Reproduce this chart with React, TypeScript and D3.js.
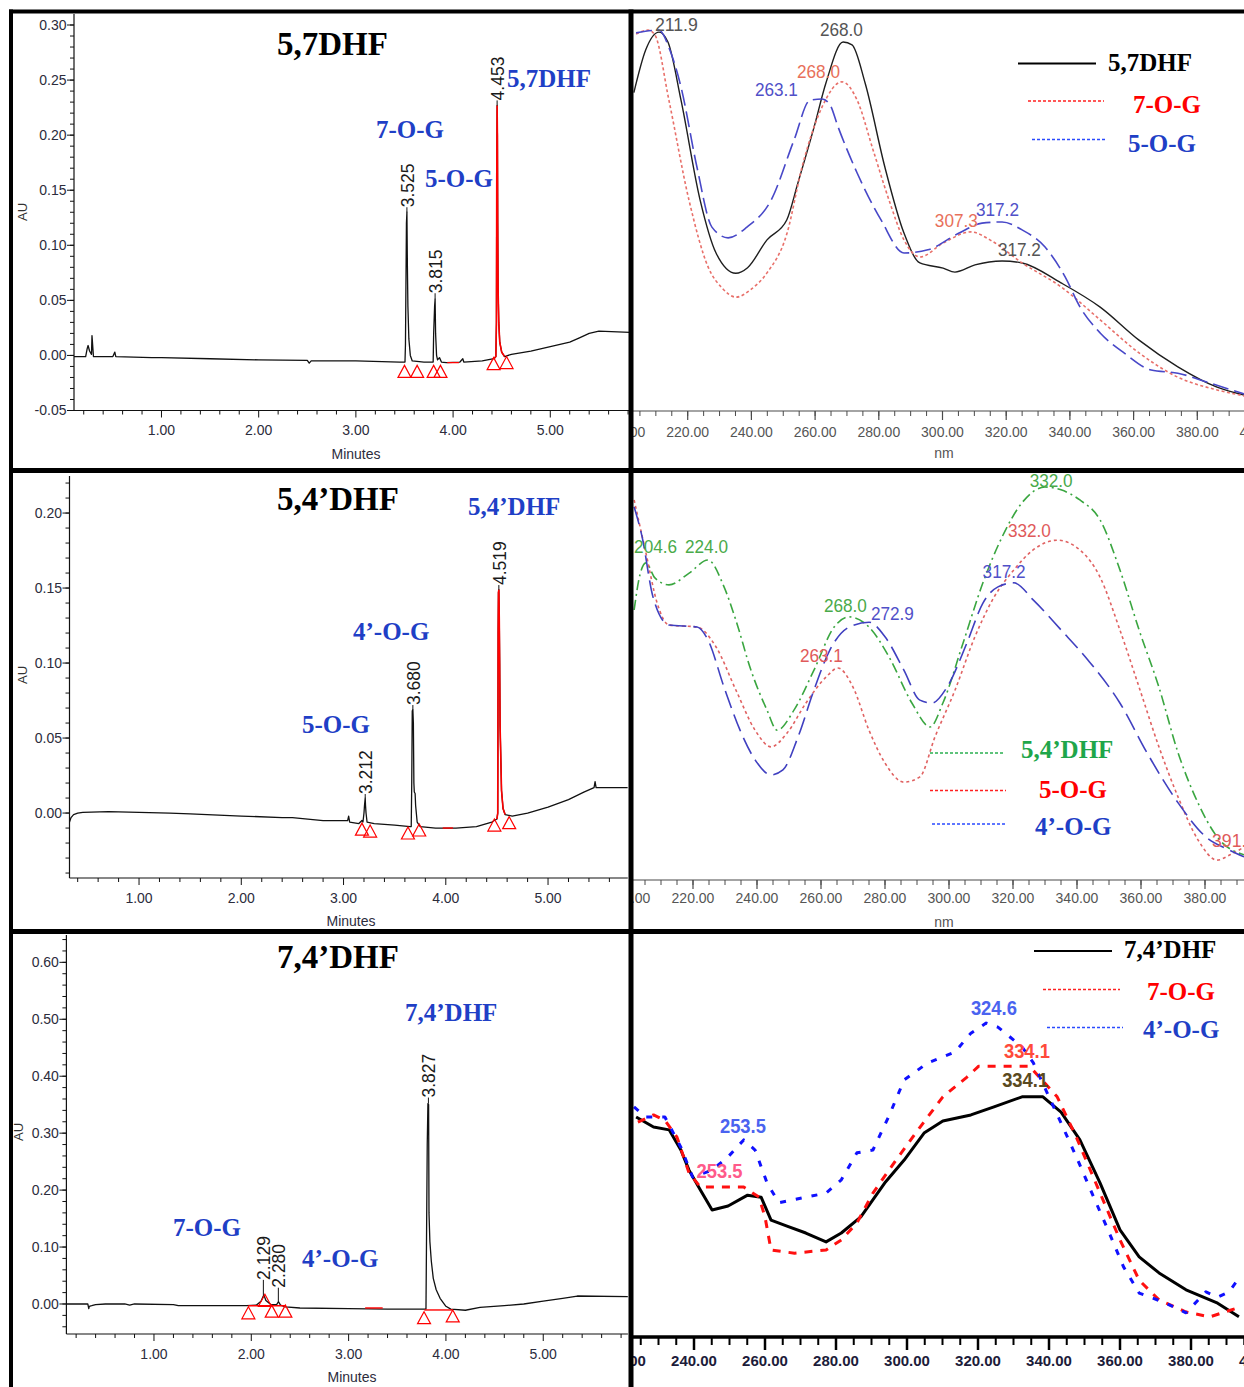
import React from 'react';
import * as d3 from 'd3';

type P = [number, number];

// ================= Chromatogram 1 : 5,7DHF =================
const chrom1Trace: P[] = [
  [0.10, -0.001], [0.22, -0.001], [0.235, 0.006], [0.245, 0.009], [0.26, 0.004], [0.28, 0.001],
  [0.285, 0.018], [0.29, 0.012], [0.30, -0.001], [0.50, -0.001], [0.52, 0.003], [0.53, -0.001],
  [0.90, -0.002], [1.00, -0.002], [1.50, -0.003], [2.00, -0.004], [2.50, -0.0045], [2.52, -0.007],
  [2.54, -0.005], [3.00, -0.005], [3.45, -0.006], [3.505, -0.006], [3.51, 0.01], [3.52, 0.12],
  [3.525, 0.130], [3.53, 0.08], [3.535, 0.045], [3.545, 0.015], [3.56, 0.0], [3.58, -0.005],
  [3.70, -0.006], [3.795, -0.006], [3.80, 0.02], [3.81, 0.045], [3.815, 0.051], [3.82, 0.02],
  [3.83, 0.0], [3.84, -0.004], [3.86, -0.002], [3.88, -0.006], [3.93, -0.0065], [4.07, -0.006],
  [4.10, -0.003], [4.11, -0.006], [4.30, -0.005], [4.42, -0.003], [4.44, -0.001], [4.446, 0.03],
  [4.449, 0.16], [4.453, 0.227], [4.456, 0.20], [4.459, 0.12], [4.463, 0.06], [4.47, 0.03],
  [4.48, 0.012], [4.50, 0.003], [4.53, -0.001], [4.60, 0.001], [4.80, 0.004], [5.00, 0.008],
  [5.20, 0.012], [5.30, 0.016], [5.40, 0.020], [5.50, 0.022], [5.82, 0.021],
];
const chrom1RedPeak: P = [4.42, 4.53];
const chrom1RedBaselines: [number, number, number][] = [[3.94, 4.06, -0.0065]];
const chrom1Triangles: P[] = [[3.50, -0.009], [3.63, -0.009], [3.80, -0.009], [3.87, -0.009], [4.417, -0.002], [4.55, -0.001]];
const chrom1PeakRT = [3.525, 3.815, 4.453];
const chrom1PeakTop = [0.130, 0.051, 0.227];
const chrom1PeakLabels = ['3.525', '3.815', '4.453'];
const chrom1YTicks = [-0.05, 0.0, 0.05, 0.10, 0.15, 0.20, 0.25, 0.30];
const chrom1XTicks = [1, 2, 3, 4, 5];
const chrom1Title = '5,7DHF';
const chrom1Compounds = ['5,7DHF', '7-O-G', '5-O-G'];

// ================= Chromatogram 2 : 5,4'DHF =================
const chrom2Trace: P[] = [
  [0.32, -0.006], [0.335, -0.003], [0.36, -0.001], [0.40, 0.0], [0.45, 0.0005], [0.70, 0.001],
  [1.00, 0.0005], [1.30, 0.0], [1.50, -0.0005], [2.00, -0.002], [2.40, -0.003], [2.50, -0.003],
  [2.80, -0.005], [3.00, -0.005], [3.04, -0.005], [3.05, -0.002], [3.06, -0.006], [3.15, -0.007],
  [3.18, -0.005], [3.19, -0.006], [3.20, 0.0], [3.205, 0.005], [3.212, 0.010], [3.215, 0.005],
  [3.22, 0.0], [3.23, -0.006], [3.30, -0.007], [3.50, -0.008], [3.65, -0.009], [3.662, -0.009],
  [3.667, 0.02], [3.672, 0.068], [3.678, 0.069], [3.683, 0.06], [3.688, 0.02], [3.692, 0.014],
  [3.70, 0.013], [3.705, 0.005], [3.72, -0.006], [3.75, -0.009], [3.90, -0.010], [4.00, -0.010],
  [4.10, -0.010], [4.30, -0.009], [4.45, -0.006], [4.50, -0.004], [4.508, 0.0], [4.512, 0.12],
  [4.515, 0.147], [4.519, 0.149], [4.523, 0.13], [4.527, 0.10], [4.531, 0.058], [4.537, 0.04],
  [4.545, 0.015], [4.56, 0.003], [4.58, -0.001], [4.65, -0.002], [4.80, 0.0], [5.00, 0.004],
  [5.20, 0.009], [5.35, 0.014], [5.45, 0.017], [5.46, 0.021], [5.47, 0.017], [5.78, 0.017],
];
const chrom2RedPeak: P = [4.47, 4.60];
const chrom2RedBaselines: [number, number, number][] = [[3.97, 4.07, -0.010]];
const chrom2Triangles: P[] = [[3.18, -0.0067], [3.26, -0.008], [3.63, -0.0093], [3.74, -0.0073], [4.475, -0.004], [4.62, -0.0024]];
const chrom2PeakRT = [3.212, 3.678, 4.519];
const chrom2PeakTop = [0.010, 0.069, 0.149];
const chrom2PeakLabels = ['3.212', '3.680', '4.519'];
const chrom2YTicks = [0.0, 0.05, 0.10, 0.15, 0.20];
const chrom2XTicks = [1, 2, 3, 4, 5];
const chrom2Title = '5,4’DHF';
const chrom2Compounds = ['5,4’DHF', '4’-O-G', '5-O-G'];

// ================= Chromatogram 3 : 7,4'DHF =================
const chrom3Trace: P[] = [
  [0.10, 0.0], [0.32, 0.0], [0.33, -0.008], [0.335, -0.004], [0.36, -0.003], [0.40, -0.001],
  [0.50, 0.0], [0.70, 0.0], [0.75, -0.002], [0.80, 0.0], [1.20, -0.001], [1.25, -0.003],
  [1.60, -0.003], [1.95, -0.003], [2.05, -0.002], [2.10, 0.005], [2.129, 0.016], [2.15, 0.006],
  [2.20, -0.001], [2.26, -0.001], [2.28, 0.004], [2.30, -0.002], [2.35, -0.005], [2.50, -0.007],
  [3.00, -0.008], [3.40, -0.009], [3.60, -0.009], [3.795, -0.009], [3.80, 0.10], [3.808, 0.28],
  [3.815, 0.352], [3.822, 0.35], [3.826, 0.16], [3.835, 0.11], [3.85, 0.075], [3.87, 0.045],
  [3.90, 0.025], [3.94, 0.01], [4.00, -0.004], [4.05, -0.009], [4.20, -0.011], [4.35, -0.006],
  [4.60, -0.003], [4.80, 0.0], [5.00, 0.005], [5.20, 0.010], [5.35, 0.014], [5.87, 0.013],
];
const chrom3RedPeak: P = [0, 0];
const chrom3RedBaselines: [number, number, number][] = [[1.97, 2.35, -0.003], [3.17, 3.35, -0.007], [3.778, 4.07, -0.0105]];
const chrom3Triangles: P[] = [[1.97, -0.005], [2.14, 0.017], [2.21, -0.002], [2.35, -0.002], [3.775, -0.0135], [4.07, -0.0105]];
const chrom3PeakRT = [2.124, 2.278, 3.82];
const chrom3PeakTop = [0.016, 0.004, 0.352];
const chrom3PeakLabels = ['2.129', '2.280', '3.827'];
const chrom3YTicks = [0.0, 0.10, 0.20, 0.30, 0.40, 0.50, 0.60];
const chrom3XTicks = [1, 2, 3, 4, 5];
const chrom3Title = '7,4’DHF';
const chrom3Compounds = ['7,4’DHF', '7-O-G', '4’-O-G'];

// ================= UV spectra (nm, relative absorbance) =================
const spec1Names = ['5,7DHF', '7-O-G', '5-O-G'];
const spec1DHF: P[] = [
  [203.1, 0.80], [206.8, 0.907], [211.0, 0.952], [213.8, 0.927], [217.9, 0.781], [223.9, 0.53],
  [228.9, 0.397], [235.1, 0.346], [238.8, 0.36], [244.9, 0.43], [251.1, 0.48], [254.6, 0.573],
  [259.7, 0.714], [263.4, 0.824], [268.8, 0.927], [271.6, 0.92], [275.7, 0.824], [281.9, 0.613],
  [287.9, 0.447], [292.9, 0.372], [300.2, 0.359], [303.9, 0.349], [310.2, 0.367], [318.7, 0.377],
  [325.0, 0.372], [337.2, 0.322], [349.5, 0.261], [361.7, 0.178], [373.9, 0.111], [386.2, 0.06],
  [394.7, 0.04],
];
const spec1_7OG: P[] = [
  [203.8, 0.947], [207.5, 0.957], [209.7, 0.945], [214.1, 0.781], [220.4, 0.53], [226.4, 0.362],
  [230.8, 0.309], [235.2, 0.286], [239.6, 0.304], [244.9, 0.347], [251.2, 0.447], [255.9, 0.613],
  [262.2, 0.764], [268.4, 0.827], [273.2, 0.781], [278.2, 0.656], [283.2, 0.53], [287.9, 0.43],
  [292.9, 0.387], [300.2, 0.422], [309.0, 0.45], [314.9, 0.43], [325.0, 0.372], [337.2, 0.312],
  [349.5, 0.229], [361.7, 0.146], [373.9, 0.085], [386.2, 0.053], [394.7, 0.038],
];
const spec1_5OG: P[] = [
  [203.8, 0.95], [211.0, 0.957], [214.4, 0.907], [217.9, 0.814], [222.9, 0.613], [227.6, 0.462],
  [232.7, 0.435], [238.6, 0.462], [246.2, 0.53], [253.4, 0.681], [258.4, 0.781], [262.2, 0.784],
  [264.7, 0.769], [267.2, 0.714], [273.2, 0.598], [280.7, 0.48], [287.9, 0.397], [295.4, 0.405],
  [305.2, 0.447], [312.4, 0.472], [318.7, 0.475], [325.0, 0.455], [332.2, 0.412], [338.5, 0.337],
  [343.2, 0.261], [349.5, 0.196], [357.0, 0.146], [365.5, 0.103], [373.9, 0.095], [384.0, 0.07],
  [394.7, 0.043],
];
const spec1PeakText = ['211.9', '268.0', '268.0', '263.1', '307.3', '317.2', '317.2'];
const spec1PeakNm = [209.7, 261.5, 254.3, 241.1, 297.6, 310.5, 317.4];
const spec1PeakAbs = [0.955, 0.942, 0.837, 0.791, 0.462, 0.49, 0.389];
const spec1PeakSeries = [0, 0, 1, 2, 1, 2, 0];

const spec2Names = ['5,4’DHF', '5-O-G', '4’-O-G'];
const spec2DHF: P[] = [
  [201.6, 0.665], [203.4, 0.751], [205.3, 0.781], [208.1, 0.744], [212.5, 0.727], [218.8, 0.756],
  [224.7, 0.788], [229.7, 0.722], [233.4, 0.64], [238.1, 0.517], [243.1, 0.419], [246.3, 0.369],
  [251.6, 0.419], [257.8, 0.517], [264.1, 0.623], [268.8, 0.648], [275.0, 0.623], [281.3, 0.549],
  [288.4, 0.436], [294.1, 0.377], [298.1, 0.436], [304.4, 0.584], [310.6, 0.732], [316.6, 0.845],
  [322.8, 0.929], [330.0, 0.968], [335.0, 0.961], [340.9, 0.936], [347.2, 0.887], [353.4, 0.764],
  [359.4, 0.616], [365.6, 0.475], [371.6, 0.313], [377.8, 0.19], [383.8, 0.106], [392.2, 0.062],
];
const spec2_5OG: P[] = [
  [201.6, 0.936], [205.3, 0.805], [208.8, 0.682], [212.5, 0.628], [221.3, 0.623], [227.2, 0.574],
  [233.4, 0.468], [239.4, 0.369], [244.4, 0.328], [249.4, 0.362], [255.3, 0.436], [261.6, 0.50],
  [265.3, 0.522], [270.0, 0.475], [275.0, 0.369], [280.0, 0.288], [285.9, 0.241], [290.9, 0.254],
  [295.6, 0.352], [301.9, 0.468], [308.1, 0.599], [314.1, 0.697], [320.3, 0.764], [326.3, 0.813],
  [333.8, 0.837], [340.9, 0.813], [347.2, 0.746], [353.4, 0.616], [359.4, 0.475], [365.6, 0.328],
  [371.6, 0.204], [377.8, 0.099], [383.8, 0.049], [387.8, 0.062], [392.2, 0.081],
];
const spec2_4OG: P[] = [
  [201.6, 0.919], [204.1, 0.845], [207.5, 0.697], [212.5, 0.628], [221.3, 0.623], [224.7, 0.591],
  [229.7, 0.475], [234.7, 0.369], [239.4, 0.296], [244.4, 0.259], [248.1, 0.271], [252.8, 0.352],
  [257.8, 0.468], [262.8, 0.567], [268.8, 0.623], [275.0, 0.635], [280.0, 0.599], [285.9, 0.517],
  [290.9, 0.443], [294.7, 0.436], [299.4, 0.475], [305.6, 0.584], [310.6, 0.682], [315.3, 0.722],
  [320.3, 0.732], [326.3, 0.69], [335.0, 0.616], [343.4, 0.542], [353.4, 0.436], [361.9, 0.313],
  [371.6, 0.19], [380.3, 0.106], [387.5, 0.074], [392.2, 0.057],
];
const spec2PeakText = ['204.6', '224.0', '268.0', '272.9', '263.1', '317.2', '332.0', '332.0', '391.'];
const spec2PeakNm = [201.6, 217.5, 260.9, 275.6, 253.4, 310.5, 318.4, 325.2, 382.2];
const spec2PeakAbs = [0.805, 0.805, 0.66, 0.64, 0.537, 0.744, 0.845, 0.968, 0.081];
const spec2PeakSeries = [0, 0, 0, 2, 1, 2, 1, 0, 1];

const spec3Names = ['7,4’DHF', '7-O-G', '4’-O-G'];
const spec3DHF: P[] = [
  [223.7, 0.546], [228.6, 0.521], [233.0, 0.514], [236.3, 0.464], [238.6, 0.414], [241.8, 0.365],
  [245.1, 0.315], [249.6, 0.325], [255.1, 0.352], [258.9, 0.347], [261.7, 0.29], [266.2, 0.275],
  [271.5, 0.258], [277.2, 0.236], [281.5, 0.258], [287.0, 0.298], [293.7, 0.382], [299.2, 0.439],
  [304.8, 0.506], [310.1, 0.536], [318.0, 0.551], [324.5, 0.571], [332.4, 0.596], [338.3, 0.596],
  [343.4, 0.558], [348.7, 0.489], [354.4, 0.382], [360.0, 0.266], [365.4, 0.199], [371.0, 0.159],
  [378.6, 0.117], [387.5, 0.084], [393.5, 0.05],
];
const spec3_7OG: P[] = [
  [224.2, 0.533], [228.6, 0.551], [231.8, 0.538], [235.2, 0.496], [238.6, 0.407], [241.8, 0.372],
  [254.0, 0.372], [258.3, 0.347], [260.0, 0.298], [261.7, 0.216], [268.3, 0.208], [277.2, 0.216],
  [281.5, 0.241], [285.9, 0.283], [290.4, 0.357], [296.9, 0.439], [303.7, 0.521], [310.1, 0.596],
  [316.9, 0.645], [320.2, 0.672], [334.5, 0.672], [342.3, 0.596], [347.7, 0.496], [354.4, 0.357],
  [360.0, 0.241], [365.4, 0.141], [371.0, 0.092], [378.6, 0.062], [385.3, 0.05], [393.0, 0.072],
];
const spec3_4OG: P[] = [
  [223.1, 0.571], [226.4, 0.546], [231.8, 0.546], [236.3, 0.471], [239.6, 0.397], [245.1, 0.414],
  [249.6, 0.447], [254.0, 0.489], [257.2, 0.464], [260.6, 0.382], [263.9, 0.333], [270.4, 0.345],
  [277.2, 0.357], [281.5, 0.39], [285.9, 0.457], [290.4, 0.464], [294.8, 0.546], [299.2, 0.638],
  [305.8, 0.68], [313.5, 0.707], [318.0, 0.754], [322.3, 0.779], [325.6, 0.769], [332.4, 0.72],
  [335.6, 0.68], [340.0, 0.596], [343.4, 0.531], [347.7, 0.447], [352.1, 0.357], [356.6, 0.266],
  [361.0, 0.174], [365.4, 0.109], [372.1, 0.087], [378.6, 0.06], [384.2, 0.112], [387.5, 0.099],
  [390.7, 0.112], [393.5, 0.146],
];
const spec3PeakText = ['253.5', '253.5', '324.6', '334.1', '334.1'];
const spec3PeakNm = [247.3, 240.7, 318.0, 327.3, 326.8];
const spec3PeakAbs = [0.506, 0.395, 0.799, 0.692, 0.62];
const spec3PeakColors = ['#4a63f0', '#ff5a8a', '#4a63f0', '#ff4a3a', '#5a4a20'];

const specTicks12 = [200, 220, 240, 260, 280, 300, 320, 340, 360, 380, 400];
const specTicks3 = [220, 240, 260, 280, 300, 320, 340, 360, 380, 400];

// ================= styling / layout =================
const SANS = "'Liberation Sans', Arial, Helvetica, sans-serif";
const SERIF = "'Liberation Serif', 'Times New Roman', Times, serif";
const BLUE = '#1f3fc6';
const RED = '#ff0000';
const GREEN = '#1fa64a';
const fmt2 = (v: number) => d3.format('.2f')(v).replace('−', '-');

const chromLayouts = [
  { xDomain: [0.1, 5.82], xRange: [74, 630], yDomain: [-0.05, 0.31], yRange: [410.5, 14], yMinor: 0.01,
    auX: 22, auY: 212, minX: 356, compPos: [[507, 87], [376, 138], [425, 187]], titleY: 55, gaps: [5, 6, 5] },
  { xDomain: [0.32, 5.78], xRange: [69.5, 627.8], yDomain: [-0.0433, 0.2247], yRange: [878, 476], yMinor: 0.01,
    auX: 22, auY: 675, minX: 351, compPos: [[468, 515], [353, 640], [302, 733]], titleY: 510, gaps: [4, 4.5, 4.5] },
  { xDomain: [0.1, 5.87], xRange: [66.4, 627.9], yDomain: [-0.0527, 0.648], yRange: [1334, 935], yMinor: 0.02,
    auX: 18, auY: 1132, minX: 352, compPos: [[405, 1021], [173, 1236], [302, 1267]], titleY: 968, gaps: [15, 14, 6] },
];

function Chromatogram(props: any) {
  const { trace, redPeak, redBaselines, triangles, peakRT, peakTop, peakLabels, yTicks, xTicks, title, compounds, L, id } = props;
  const x = d3.scaleLinear().domain(L.xDomain).range(L.xRange);
  const y = d3.scaleLinear().domain(L.yDomain).range(L.yRange);
  const line = d3.line<P>().x(d => x(d[0])).y(d => y(d[1]));
  const redPts = trace.filter((d: P) => d[0] >= redPeak[0] && d[0] <= redPeak[1]);
  const [x0, x1] = L.xRange;
  const [yb, yt] = L.yRange;
  const xMinor = d3.range(1, 40).map(i => +(i * 0.2).toFixed(2))
    .filter(t => t > L.xDomain[0] && t < L.xDomain[1] && Math.abs(t - Math.round(t)) > 1e-6);
  const yMinor = d3.range(-10, 80).map(i => +(i * L.yMinor).toFixed(3))
    .filter(v => v > L.yDomain[0] && v < L.yDomain[1]);
  return (
    <g>
      <defs>
        <clipPath id={`cc${id}`}><rect x={x0} y={yt} width={x1 - x0} height={yb - yt} /></clipPath>
      </defs>
      <line x1={x0} x2={x0} y1={yt} y2={yb} stroke="#111" strokeWidth={1.2} />
      <line x1={x0} x2={x1} y1={yb} y2={yb} stroke="#111" strokeWidth={1.2} />
      {yMinor.map((v, i) => (
        <line key={`ym${i}`} x1={x0 - 4} x2={x0} y1={y(v)} y2={y(v)} stroke="#111" strokeWidth={1} />
      ))}
      {yTicks.map((v: number, i: number) => (
        <g key={`yt${i}`}>
          <line x1={x0 - 7} x2={x0} y1={y(v)} y2={y(v)} stroke="#111" strokeWidth={1} />
          <text x={x0 - 7.5} y={y(v)} dy="0.35em" textAnchor="end" fontFamily={SANS} fontSize={14} fill="#2c2c3c">
            {fmt2(v)}
          </text>
        </g>
      ))}
      {xMinor.map((t, i) => (
        <line key={`xm${i}`} x1={x(t)} x2={x(t)} y1={yb} y2={yb + 4} stroke="#111" strokeWidth={1} />
      ))}
      {xTicks.map((t: number, i: number) => (
        <g key={`xt${i}`}>
          <line x1={x(t)} x2={x(t)} y1={yb} y2={yb + 7} stroke="#111" strokeWidth={1} />
          <text x={x(t)} y={yb + 24.5} textAnchor="middle" fontFamily={SANS} fontSize={14} fill="#2c2c3c">
            {fmt2(t)}
          </text>
        </g>
      ))}
      <text transform={`translate(${L.auX},${L.auY}) rotate(-90)`} textAnchor="middle" dy="0.35em" fontFamily={SANS} fontSize={13} fill="#333">AU</text>
      <text x={L.minX} y={yb + 48} textAnchor="middle" fontFamily={SANS} fontSize={14} fill="#2c2c3c">Minutes</text>

      <g clipPath={`url(#cc${id})`}>
        <path d={line(trace) || ''} fill="none" stroke="#111" strokeWidth={1.3} strokeLinejoin="round" />
        {redPts.length > 1 && <path d={line(redPts) || ''} fill="none" stroke={RED} strokeWidth={1.6} />}
        {redBaselines.map((s: number[], i: number) => (
          <line key={`rb${i}`} x1={x(s[0])} x2={x(s[1])} y1={y(s[2])} y2={y(s[2])} stroke={RED} strokeWidth={1.4} />
        ))}
      </g>
      {triangles.map((d: P, i: number) => {
        const cx = x(d[0]);
        const cy = y(d[1]);
        return <polygon key={`tr${i}`} points={`${cx},${cy} ${cx - 6.5},${cy + 12} ${cx + 6.5},${cy + 12}`} fill="none" stroke={RED} strokeWidth={1.2} />;
      })}
      {peakRT.map((t: number, i: number) => {
        const px = x(t);
        const py = y(peakTop[i]);
        const ly = py - L.gaps[i];
        return (
          <g key={`pk${i}`}>
            <line x1={px} x2={px} y1={py} y2={ly} stroke="#111" strokeWidth={1} />
            <text transform={`translate(${px + 1},${ly}) rotate(-90)`} dominantBaseline="central" fontFamily={SANS} fontSize={17.5} fill="#1a1a1a">
              {peakLabels[i]}
            </text>
          </g>
        );
      })}
      <text x={277} y={L.titleY} fontFamily={SERIF} fontWeight="bold" fontSize={33} fill="#000">{title}</text>
      {compounds.map((c: string, i: number) => (
        <text key={`cp${i}`} x={L.compPos[i][0]} y={L.compPos[i][1]} fontFamily={SERIF} fontWeight="bold" fontSize={25} fill={BLUE}>{c}</text>
      ))}
    </g>
  );
}

const specLayouts = [
  { xDomain: [200, 400], xRange: [624, 1261], yRange: [411, 13], clip: [633, 14, 611, 397], tickY: 437, nmY: 458, heavy: false,
    legend: [[1018, 1096, 63.5, 1108, 70.5], [1028, 1104, 101, 1133, 113], [1032, 1106, 139.5, 1128, 151.5]] },
  { xDomain: [200, 400], xRange: [629, 1269], yRange: [880, 474], clip: [633, 474, 611, 406], tickY: 903, nmY: 927, heavy: false,
    legend: [[930, 1004, 753, 1021, 758], [930, 1006, 790.5, 1039, 798], [932, 1007, 824, 1035, 835]] },
  { xDomain: [220, 400], xRange: [623, 1262], yRange: [1337, 934], clip: [633, 934, 611, 403], tickY: 1366, nmY: 1397, heavy: true,
    legend: [[1034, 1112, 951, 1124, 958], [1043, 1120, 989.5, 1147, 1000], [1047, 1123, 1027.5, 1143, 1038]] },
];

function Spectrum(props: any) {
  const { curves, names, labels, ticks, L, id } = props;
  const x = d3.scaleLinear().domain(L.xDomain).range(L.xRange);
  const y = d3.scaleLinear().domain([0, 1]).range(L.yRange);
  const line = d3.line<P>().x(d => x(d[0])).y(d => y(d[1]))
    .curve(L.heavy ? d3.curveLinear : d3.curveMonotoneX);
  const minor = d3.range(Math.ceil(L.xDomain[0] / 5), Math.floor(L.xDomain[1] / 5) + 1).map(i => i * 5);
  const [cx, cy, cw, ch] = L.clip;
  const axisY = L.yRange[0];
  const axisColor = L.heavy ? '#000' : '#4a4a4a';
  return (
    <g>
      <defs>
        <clipPath id={`sc${id}`}><rect x={cx} y={cy} width={cw} height={ch} /></clipPath>
        <clipPath id={`sa${id}`}><rect x={cx} y={cy} width={cw} height={1400} /></clipPath>
      </defs>
      <g clipPath={`url(#sa${id})`}>
        <line x1={cx} x2={cx + cw} y1={axisY} y2={axisY} stroke={axisColor} strokeWidth={L.heavy ? 3.5 : 1.2} />
        {minor.map((v, i) => (
          <line key={`mn${i}`} x1={x(v)} x2={x(v)} y1={axisY} y2={axisY + (L.heavy ? 8 : 5)} stroke={axisColor} strokeWidth={L.heavy ? 2 : 1} />
        ))}
        {ticks.map((v: number, i: number) => (
          <g key={`tk${i}`}>
            <line x1={x(v)} x2={x(v)} y1={axisY} y2={axisY + (L.heavy ? 13 : 9)} stroke={axisColor} strokeWidth={L.heavy ? 2.5 : 1.2} />
            <text x={x(v)} y={L.tickY} textAnchor="middle" fontFamily={SANS} fontSize={L.heavy ? 15 : 14}
              fontWeight={L.heavy ? 'bold' : 'normal'} fill={L.heavy ? '#1c1c3a' : '#555'}>
              {fmt2(v)}
            </text>
          </g>
        ))}
        <text x={944} y={L.nmY} textAnchor="middle" fontFamily={SANS} fontSize={14} fill={L.heavy ? '#1c1c3a' : '#555'}>nm</text>
      </g>
      <g clipPath={`url(#sc${id})`}>
        {curves.map((c: any, i: number) => (
          <path key={`cv${i}`} d={line(c.data) || ''} fill="none" stroke={c.color} strokeWidth={c.width}
            strokeDasharray={c.dash} strokeLinejoin="round" />
        ))}
        {labels.map((l: any, i: number) => (
          <text key={`lb${i}`} x={x(l.nm)} y={y(l.v)} fontFamily={SANS} fontSize={L.heavy ? 20 : 19}
            fontWeight={L.heavy ? 'bold' : 'normal'} fill={l.color}
            textLength={(L.heavy ? 9.2 : 8.6) * l.text.length} lengthAdjust="spacingAndGlyphs">{l.text}</text>
        ))}
      </g>
      {names.map((n: string, i: number) => {
        const [lx0, lx1, ly, tx, ty] = L.legend[i];
        const c = curves[i];
        return (
          <g key={`lg${i}`}>
            <line x1={lx0} x2={lx1} y1={ly} y2={ly} stroke={c.legendLine} strokeWidth={c.legendDash ? 1.5 : 2}
              strokeDasharray={c.legendDash} />
            <text x={tx} y={ty} fontFamily={SERIF} fontWeight="bold" fontSize={25} fill={c.legendColor}>{n}</text>
          </g>
        );
      })}
    </g>
  );
}

export default function App() {
  const s1Colors = ['#555555', '#e8705a', '#5050c8'];
  const s2Colors = ['#4aaa4a', '#e05a5a', '#5050c8'];
  const spec1Curves = [
    { data: spec1DHF, color: '#1e1e1e', width: 1.4, dash: undefined, legendColor: '#000', legendLine: '#000', legendDash: undefined },
    { data: spec1_7OG, color: '#e8706a', width: 1.6, dash: '3 2.5', legendColor: RED, legendLine: '#ff2020', legendDash: '3 2' },
    { data: spec1_5OG, color: '#4848c8', width: 1.6, dash: '16 6', legendColor: BLUE, legendLine: '#2a4aff', legendDash: '3 2' },
  ];
  const spec2Curves = [
    { data: spec2DHF, color: '#3aa640', width: 1.6, dash: '10 4 2 4', legendColor: GREEN, legendLine: '#2ab050', legendDash: '3 2' },
    { data: spec2_5OG, color: '#e06262', width: 1.6, dash: '3 3', legendColor: RED, legendLine: '#ff2020', legendDash: '3 2' },
    { data: spec2_4OG, color: '#4040c0', width: 1.6, dash: '18 7', legendColor: BLUE, legendLine: '#2a4aff', legendDash: '3 2' },
  ];
  const spec3Curves = [
    { data: spec3DHF, color: '#000', width: 3, dash: undefined, legendColor: '#000', legendLine: '#000', legendDash: undefined },
    { data: spec3_7OG, color: '#ff1010', width: 3, dash: '8 8', legendColor: RED, legendLine: '#ff2020', legendDash: '3 2' },
    { data: spec3_4OG, color: '#1010ff', width: 3, dash: '6 10', legendColor: BLUE, legendLine: '#2a4aff', legendDash: '3 2' },
  ];
  const spec1Labels = spec1PeakText.map((t, i) => ({ text: t, nm: spec1PeakNm[i], v: spec1PeakAbs[i], color: s1Colors[spec1PeakSeries[i]] }));
  const spec2Labels = spec2PeakText.map((t, i) => ({ text: t, nm: spec2PeakNm[i], v: spec2PeakAbs[i], color: s2Colors[spec2PeakSeries[i]] }));
  const spec3Labels = spec3PeakText.map((t, i) => ({ text: t, nm: spec3PeakNm[i], v: spec3PeakAbs[i], color: spec3PeakColors[i] }));

  return (
    <svg width={1244} height={1387} viewBox="0 0 1244 1387" style={{ position: 'absolute', left: 0, top: 0, background: '#fff' }}>
      <rect x={0} y={0} width={1244} height={1387} fill="#fff" />
      <Chromatogram id={1} trace={chrom1Trace} redPeak={chrom1RedPeak} redBaselines={chrom1RedBaselines}
        triangles={chrom1Triangles} peakRT={chrom1PeakRT} peakTop={chrom1PeakTop} peakLabels={chrom1PeakLabels}
        yTicks={chrom1YTicks} xTicks={chrom1XTicks} title={chrom1Title} compounds={chrom1Compounds} L={chromLayouts[0]} />
      <Chromatogram id={2} trace={chrom2Trace} redPeak={chrom2RedPeak} redBaselines={chrom2RedBaselines}
        triangles={chrom2Triangles} peakRT={chrom2PeakRT} peakTop={chrom2PeakTop} peakLabels={chrom2PeakLabels}
        yTicks={chrom2YTicks} xTicks={chrom2XTicks} title={chrom2Title} compounds={chrom2Compounds} L={chromLayouts[1]} />
      <Chromatogram id={3} trace={chrom3Trace} redPeak={chrom3RedPeak} redBaselines={chrom3RedBaselines}
        triangles={chrom3Triangles} peakRT={chrom3PeakRT} peakTop={chrom3PeakTop} peakLabels={chrom3PeakLabels}
        yTicks={chrom3YTicks} xTicks={chrom3XTicks} title={chrom3Title} compounds={chrom3Compounds} L={chromLayouts[2]} />

      <Spectrum id={1} curves={spec1Curves} names={spec1Names} labels={spec1Labels} ticks={specTicks12} L={specLayouts[0]} />
      <Spectrum id={2} curves={spec2Curves} names={spec2Names} labels={spec2Labels} ticks={specTicks12} L={specLayouts[1]} />
      <Spectrum id={3} curves={spec3Curves} names={spec3Names} labels={spec3Labels} ticks={specTicks3} L={specLayouts[2]} />

      <line x1={9} x2={1244} y1={11.5} y2={11.5} stroke="#000" strokeWidth={4} />
      <line x1={11} x2={11} y1={9.5} y2={1387} stroke="#000" strokeWidth={4} />
      <line x1={631} x2={631} y1={9.5} y2={1387} stroke="#000" strokeWidth={5} />
      <line x1={9} x2={1244} y1={470.5} y2={470.5} stroke="#000" strokeWidth={5} />
      <line x1={9} x2={1244} y1={931.5} y2={931.5} stroke="#000" strokeWidth={5} />
    </svg>
  );
}
